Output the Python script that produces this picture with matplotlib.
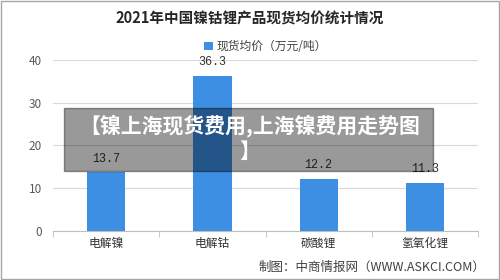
import matplotlib
matplotlib.use('Agg')
import matplotlib.pyplot as plt
from matplotlib.patches import Rectangle

plt.rcParams['font.family'] = ['Noto Sans CJK SC', 'DejaVu Sans']

# data
categories = ['电解镍', '电解钴', '碳酸锂', '氢氧化锂']
prices = [13.7, 36.3, 12.2, 11.3]
series_name = '现货均价（万元/吨）'
title = '2021年中国镍钴锂产品现货均价统计情况'
source = '制图：中商情报网（WWW.ASKCI.COM）'
overlay_text = '【镍上海现货费用,上海镍费用走势图\n】'

bar_color = '#3c8fe3'

fig = plt.figure(figsize=(5, 2.8), dpi=100)
ax = fig.add_axes([0.106, 0.175, 0.85, 0.611])

x = range(len(categories))
bars = ax.bar(x, prices, width=0.36, color=bar_color, label=series_name, zorder=3)

for xi, v in zip(x, prices):
    ax.text(xi, v + 1.8, f'{v}', ha='center', va='bottom', fontsize=8.5,
            color='#333333', family=['Liberation Mono', 'DejaVu Sans Mono'])

ax.set_xlim(-0.5, len(categories) - 0.5)
ax.set_ylim(0, 40)
ax.set_yticks([0, 10, 20, 30, 40])
ax.yaxis.grid(True, color='#d9d9d9', linewidth=0.8, zorder=0)
ax.set_xticks(list(x))
ax.set_xticklabels(categories, fontsize=8.5, color='#333333')
ax.set_xticks([i - 0.5 for i in range(len(categories) + 1)], minor=True)
ax.tick_params(axis='x', which='major', length=0, pad=4)
ax.tick_params(axis='x', which='minor', length=4, color='#bfbfbf', direction='out')
ax.tick_params(axis='y', length=0, labelsize=8.5, labelcolor='#595959', pad=8)
for s in ['top', 'right', 'left']:
    ax.spines[s].set_visible(False)
ax.spines['bottom'].set_color('#bfbfbf')

fig.text(0.5, 0.935, title, ha='center', va='center', fontsize=10.5,
         fontweight='bold', color='#262626')
ax.legend(loc='center', bbox_to_anchor=(0.5, 1.076), frameon=False,
          fontsize=8.5, handlelength=0.7, handleheight=0.7, handletextpad=0.3,
          labelcolor='#404040')
fig.text(0.97, 0.045, source, ha='right', va='center', fontsize=9, color='#404040')

# gray overlay banner
fig.patches.append(Rectangle((64 / 500, 1 - 171 / 280), (433 - 64) / 500, 63 / 280,
                             transform=fig.transFigure, color='black', alpha=0.4,
                             zorder=5))
fig.text(0.5, 1 - 138 / 280, overlay_text, ha='center', va='center', fontsize=15,
         fontweight='bold', color='white', linespacing=1.2, zorder=6)

# outer border
fig.patches.append(Rectangle((0.002, 0.003), 0.996, 0.994, transform=fig.transFigure,
                             fill=False, edgecolor='#a6a6a6', linewidth=1))

fig.savefig('out.png', dpi=100)
